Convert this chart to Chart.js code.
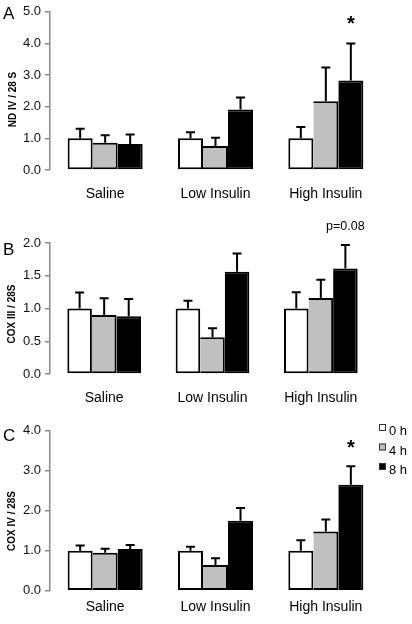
<!DOCTYPE html>
<html>
<head>
<meta charset="utf-8">
<script src="https://cdn.jsdelivr.net/npm/chart.js@4.4.1/dist/chart.umd.min.js"></script>
<style>
  html, body { margin: 0; padding: 0; background: #fff; }
  .panel { position: absolute; left: 0; width: 412px; }
</style>
</head>
<body>
<div class="panel" style="top:0;height:205px"><canvas id="chart-a" width="412" height="205"></canvas></div>
<div class="panel" style="top:205px;height:205px"><canvas id="chart-b" width="412" height="205"></canvas></div>
<div class="panel" style="top:410px;height:214px"><canvas id="chart-c" width="412" height="214"></canvas></div>
<script>
// Three panels of grouped bars (0 h / 4 h / 8 h) with SE error bars.

const groups = ['Saline', 'Low Insulin', 'High Insulin'];
const times = ['0 h', '4 h', '8 h'];

// A: ND IV / 28 S
const ndiv0 = [1.00, 1.00, 1.00];
const ndiv4 = [0.86, 0.76, 2.17];
const ndiv8 = [0.82, 1.91, 2.83];
const ndivErr0 = [0.30, 0.19, 0.36];
const ndivErr4 = [0.24, 0.26, 1.07];
const ndivErr8 = [0.30, 0.38, 1.17];
const ndivMarks = ['', '', '*'];

// B: COX III / 28S
const cox3_0 = [1.00, 1.00, 1.00];
const cox3_4 = [0.90, 0.56, 1.16];
const cox3_8 = [0.88, 1.56, 1.61];
const cox3Err0 = [0.245, 0.12, 0.25];
const cox3Err4 = [0.255, 0.14, 0.28];
const cox3Err8 = [0.265, 0.28, 0.36];
const cox3Marks = ['', '', 'p=0.08'];

// C: COX IV / 28S
const cox4_0 = [1.00, 1.00, 1.00];
const cox4_4 = [0.95, 0.64, 1.48];
const cox4_8 = [1.04, 1.75, 2.65];
const cox4Err0 = [0.13, 0.10, 0.26];
const cox4Err4 = [0.10, 0.17, 0.30];
const cox4Err8 = [0.10, 0.32, 0.46];
const cox4Marks = ['', '', '*'];

const FILLS = ['#ffffff', '#c0c0c0', '#000000'];
const AXIS = '#8a8a8a';
const FONT = '"Liberation Sans", Arial, Helvetica, sans-serif';

Chart.defaults.font.family = FONT;
Chart.defaults.color = '#111';

// error bars: vertical line from bar top + cap
const errorBars = {
  id: 'errorBars',
  afterDatasetsDraw(chart) {
    const { ctx, scales: { y } } = chart;
    ctx.save();
    ctx.strokeStyle = '#000';
    ctx.lineWidth = 2;
    chart.data.datasets.forEach((ds, i) => {
      chart.getDatasetMeta(i).data.forEach((bar, j) => {
        const top = y.getPixelForValue(ds.data[j] + ds.err[j]);
        ctx.beginPath();
        ctx.moveTo(bar.x, bar.y);
        ctx.lineTo(bar.x, top);
        ctx.moveTo(bar.x - 4.5, top);
        ctx.lineTo(bar.x + 4.5, top);
        ctx.stroke();
      });
    });
    ctx.restore();
  },
};

// significance marks above the last series, panel letter, y title, legend
const decor = {
  id: 'decor',
  afterDraw(chart, args, opts) {
    const { ctx, scales: { y } } = chart;
    ctx.save();
    ctx.fillStyle = '#000';

    ctx.font = `17px ${FONT}`;
    ctx.textAlign = 'left';
    ctx.textBaseline = 'alphabetic';
    ctx.fillText(opts.letter, 3, opts.letterY);

    ctx.save();
    ctx.translate(opts.titleX, opts.titleY);
    ctx.rotate(-Math.PI / 2);
    ctx.font = `bold 10px ${FONT}`;
    ctx.textAlign = 'center';
    ctx.textBaseline = 'middle';
    ctx.fillText(opts.title, 0, 0);
    ctx.restore();

    const last = chart.data.datasets.length - 1;
    const ds = chart.data.datasets[last];
    ctx.font = opts.markFont;
    ctx.textAlign = 'center';
    chart.getDatasetMeta(last).data.forEach((bar, j) => {
      if (!opts.marks[j]) return;
      const top = y.getPixelForValue(ds.data[j] + ds.err[j]);
      ctx.fillText(opts.marks[j], bar.x, top - opts.markGap);
    });

    if (opts.legend) {
      const { x, y: ly, step } = opts.legend;
      ctx.font = `13px ${FONT}`;
      ctx.textAlign = 'left';
      chart.data.datasets.forEach((d, i) => {
        const top = ly + i * step;
        ctx.fillStyle = d.backgroundColor;
        ctx.fillRect(x, top, 7, 7);
        ctx.strokeStyle = '#333';
        ctx.lineWidth = 1;
        ctx.strokeRect(x + 0.5, top + 0.5, 6, 6);
        ctx.fillStyle = '#000';
        ctx.fillText(d.label, x + 10, top + 11);
      });
    }
    ctx.restore();
  },
};

function makeDatasets(means, errs) {
  return means.map((m, i) => ({
    label: times[i],
    data: m,
    err: errs[i],
    backgroundColor: FILLS[i],
    borderColor: '#000',
    borderWidth: 2,
    borderSkipped: i === 0 ? false : 'left',
    barPercentage: 1,
    categoryPercentage: 0.68,
  }));
}

function renderPanel(id, cfg) {
  new Chart(document.getElementById(id), {
    type: 'bar',
    data: { labels: groups, datasets: makeDatasets(cfg.means, cfg.errs) },
    plugins: [errorBars, decor],
    options: {
      responsive: false,
      animation: false,
      layout: { padding: { top: cfg.top, right: cfg.right, left: 0, bottom: 0 } },
      plugins: {
        legend: { display: false },
        tooltip: { enabled: false },
        decor: cfg.decor,
      },
      scales: {
        x: {
          grid: { display: false, drawTicks: false },
          border: { display: false },
          ticks: { font: { size: 14 }, color: '#000', padding: cfg.labelPad },
          afterFit: s => { s.height = cfg.xHeight; },
        },
        y: {
          min: 0,
          max: cfg.max,
          ticks: {
            stepSize: cfg.step,
            font: { size: 13 },
            color: '#111',
            padding: 4,
            callback: v => v.toFixed(1),
          },
          grid: { drawOnChartArea: false, drawTicks: true, tickLength: 5, color: AXIS, lineWidth: 1.5 },
          border: { color: AXIS, width: 1.5 },
          afterFit: s => { s.width = 50; },
        },
      },
    },
  });
}

renderPanel('chart-a', {
  means: [ndiv0, ndiv4, ndiv8],
  errs: [ndivErr0, ndivErr4, ndivErr8],
  max: 5, step: 1, top: 7, right: 31, xHeight: 35, labelPad: 16,
  decor: { letter: 'A', letterY: 19, title: 'ND IV / 28 S', titleX: 13, titleY: 99.5,
           marks: ndivMarks, markFont: `bold 20px ${FONT}`, markGap: 13 },
});

renderPanel('chart-b', {
  means: [cox3_0, cox3_4, cox3_8],
  errs: [cox3Err0, cox3Err4, cox3Err8],
  max: 2, step: 0.5, top: 38, right: 37, xHeight: 36, labelPad: 16,
  decor: { letter: 'B', letterY: 50, title: 'COX III / 28S', titleX: 12, titleY: 109,
           marks: cox3Marks, markFont: `12.5px ${FONT}`, markGap: 14.5 },
});

renderPanel('chart-c', {
  means: [cox4_0, cox4_4, cox4_8],
  errs: [cox4Err0, cox4Err4, cox4Err8],
  max: 4, step: 1, top: 20.7, right: 31, xHeight: 33.3, labelPad: 8,
  decor: { letter: 'C', letterY: 31, title: 'COX IV / 28S', titleX: 12, titleY: 111,
           marks: cox4Marks, markFont: `bold 20px ${FONT}`, markGap: 12,
           legend: { x: 379, y: 14, step: 19.5 } },
});
</script>
</body>
</html>
